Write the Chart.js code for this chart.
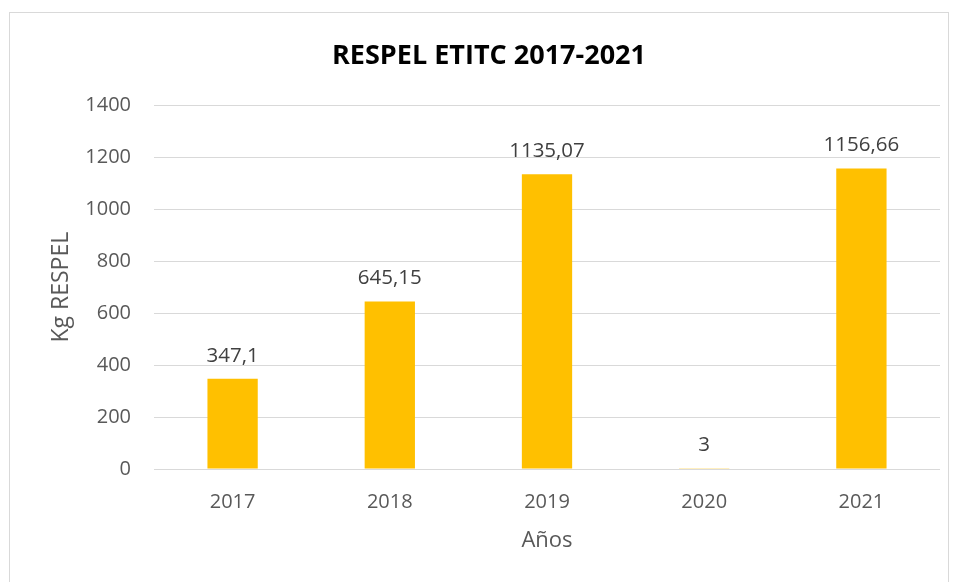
<!DOCTYPE html>
<html lang="es">
<head>
  <meta charset="UTF-8">
  <title>RESPEL ETITC 2017-2021</title>
  <style>
    html, body {
      margin: 0;
      padding: 0;
      background: #fff;
    }
    .frame {
      position: absolute;
      left: 9px;
      top: 12px;
      width: 940px;
      height: 600px;
      border: 1px solid #d9d9d9;
      box-sizing: border-box;
    }
    .chart-box {
      position: absolute;
      left: 0;
      top: 0;
      width: 954px;
      height: 582px;
    }
  </style>
</head>
<body>
  <div class="frame"></div>
  <div class="chart-box">
    <canvas id="respelChart"></canvas>
  </div>

  <script src="https://cdn.jsdelivr.net/npm/chart.js"></script>
  <script>
    // Datos
    const years = ['2017', '2018', '2019', '2020', '2021'];
    const kgRespel = [347.1, 645.15, 1135.07, 3, 1156.66];
    const yTicks = [0, 200, 400, 600, 800, 1000, 1200, 1400];

    const fontFamily = '"Open Sans", "Noto Sans", sans-serif';

    // Etiquetas de valor encima de cada barra (coma decimal)
    const valueLabels = {
      id: 'valueLabels',
      afterDatasetsDraw(chart) {
        const ctx = chart.ctx;
        const meta = chart.getDatasetMeta(0);
        ctx.save();
        ctx.font = '20.5px ' + fontFamily;
        ctx.fillStyle = '#404040';
        ctx.textAlign = 'center';
        ctx.textBaseline = 'middle';
        meta.data.forEach((bar, i) => {
          const txt = String(kgRespel[i]).replace('.', ',');
          ctx.fillText(txt, bar.x, bar.y - 23);
        });
        ctx.restore();
      }
    };

    new Chart(document.getElementById('respelChart'), {
      type: 'bar',
      data: {
        labels: years,
        datasets: [{
          data: kgRespel,
          backgroundColor: '#FFC000',
          categoryPercentage: 1,
          barPercentage: 0.32
        }]
      },
      options: {
        responsive: true,
        maintainAspectRatio: false,
        animation: false,
        layout: {
          padding: { left: 38, right: 14, top: 0, bottom: 0 }
        },
        plugins: {
          legend: { display: false },
          tooltip: { enabled: false },
          title: {
            display: true,
            text: 'RESPEL ETITC 2017-2021',
            color: '#000',
            font: { family: fontFamily, size: 27, weight: 'bold', lineHeight: 1.2 },
            padding: { top: 40, bottom: 33 }
          }
        },
        scales: {
          x: {
            afterFit(scale) { scale.height = 113; },
            grid: { display: false },
            border: { display: false },
            ticks: {
              color: '#595959',
              font: { family: fontFamily, size: 20 },
              padding: 13
            },
            title: {
              display: true,
              text: 'Años',
              color: '#595959',
              font: { family: fontFamily, size: 22, lineHeight: 1.2 },
              padding: { top: 0, bottom: 28 }
            }
          },
          y: {
            min: 0,
            max: 1400,
            afterFit(scale) { scale.width = 116; },
            afterBuildTicks(scale) {
              scale.ticks = yTicks.map(v => ({ value: v }));
            },
            grid: {
              color: '#d9d9d9',
              lineWidth: 1,
              drawTicks: false
            },
            border: { display: false },
            ticks: {
              color: '#595959',
              font: { family: fontFamily, size: 20 },
              padding: 23,
              callback: v => String(v)
            },
            title: {
              display: true,
              text: 'Kg RESPEL',
              color: '#595959',
              font: { family: fontFamily, size: 23, lineHeight: 1.2 },
              padding: { top: 10, bottom: 0 }
            }
          }
        }
      },
      plugins: [valueLabels]
    });
  </script>
</body>
</html>
